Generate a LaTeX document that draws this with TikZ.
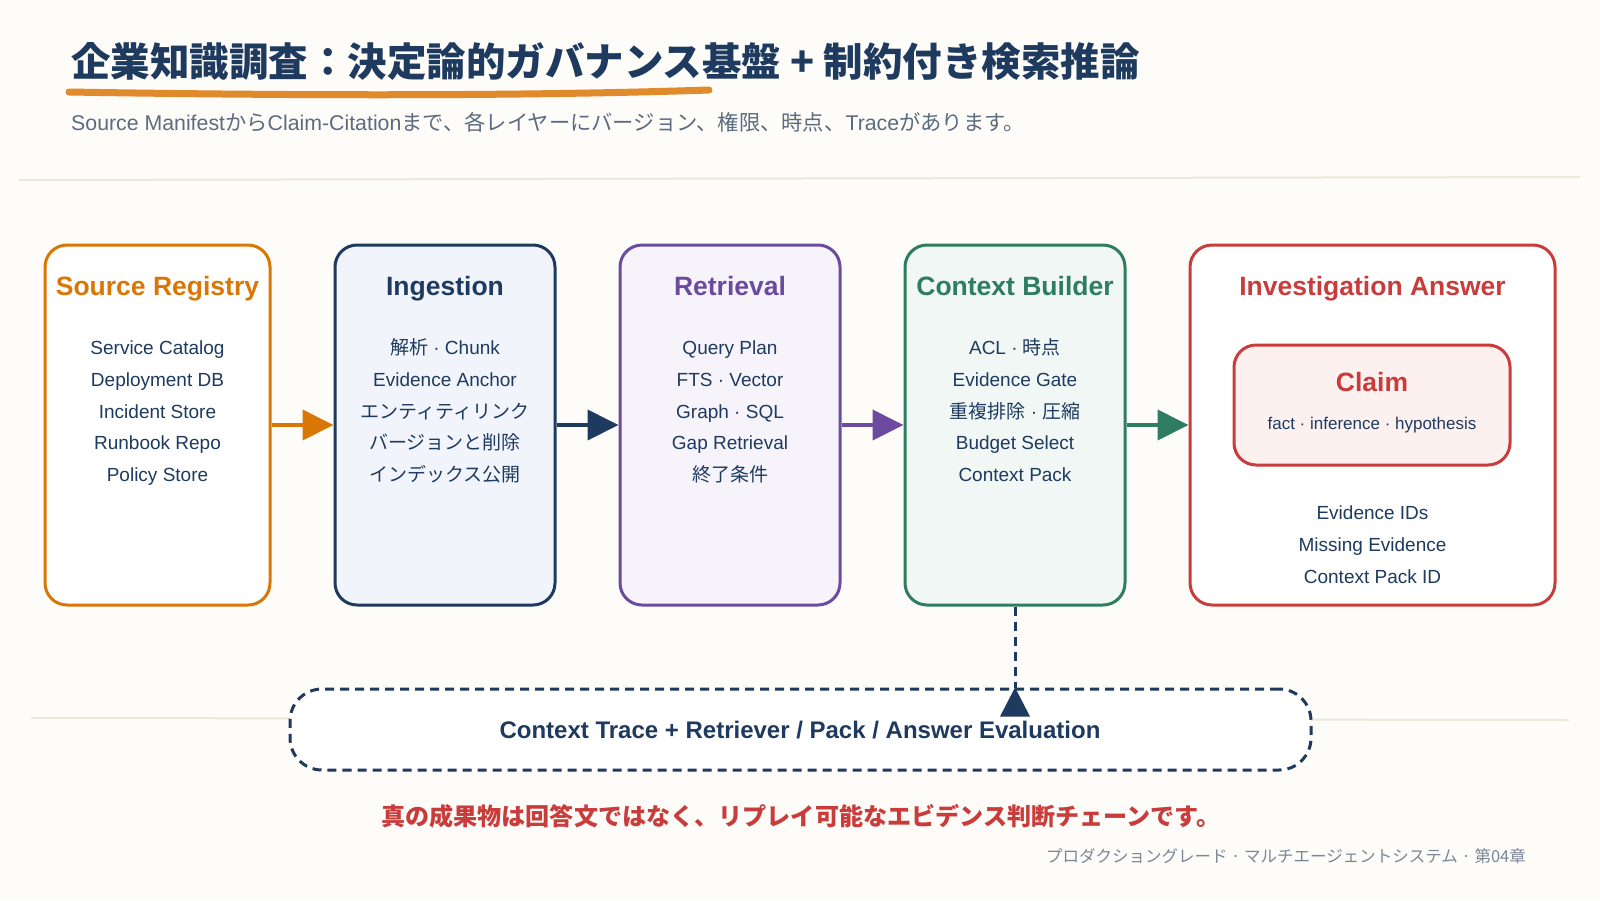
\documentclass[tikz,border=0pt]{standalone}
\usepackage{fontspec}
\setmainfont{Liberation Sans}
\newfontfamily\jp{Noto Sans CJK JP}
\newcommand\J[1]{{\jp #1}}
\usetikzlibrary{arrows.meta}
\definecolor{bg}{HTML}{FDFCF8}
\definecolor{navy}{HTML}{1E3A5F}
\definecolor{orng}{HTML}{D97706}
\definecolor{uline}{HTML}{E08A2C}
\definecolor{purp}{HTML}{6B4AA0}
\definecolor{grn}{HTML}{2E7D63}
\definecolor{rd}{HTML}{C93C3C}
\definecolor{fing}{HTML}{F1F5FB}
\definecolor{fret}{HTML}{F6F3FB}
\definecolor{fcb}{HTML}{F0F7F4}
\definecolor{fclaim}{HTML}{FDF1F0}
\definecolor{subg}{HTML}{5C6B80}
\definecolor{footg}{HTML}{7A879A}
\definecolor{divc}{HTML}{EDE8DC}
\tikzset{
  stagebox/.style={draw, line width=3pt, rounded corners=22pt, inner sep=0pt, minimum height=360pt},
  ttl/.style={font=\bfseries\fontsize{26.5}{30}\selectfont, inner sep=0pt, text height=19pt, text depth=0pt},
  itm/.style={font=\fontsize{19}{22}\selectfont, text=navy, inner sep=0pt, text height=13pt, text depth=0pt},
  arr/.style={line width=4pt, -{Triangle[length=31pt,width=30pt]}},
  dsh/.style={draw=navy, line width=3pt, dash pattern=on 9pt off 6pt},
  divline/.style={draw=divc, line width=2pt}
}
\begin{document}
\begin{tikzpicture}[x=1pt,y=-1pt]
\useasboundingbox (0,0) rectangle (1600,900);
\fill[bg] (0,0) rectangle (1600,900);

% dividers
\draw[divline] (19,180) -- (1580,177);
\draw[divline] (31,718) -- (1569,720);

% title
\node[anchor=west, inner sep=0pt, text=navy, font=\jp\bfseries\fontsize{39.5}{44}\selectfont] (title) at (71,62) {企業知識調査：決定論的ガバナンス基盤 + 制約付き検索推論};
\draw[uline, line width=7pt, line cap=round] (69,92) .. controls (250,95) and (500,97) .. (709,90);
\node[anchor=west, inner sep=0pt, text=subg, font=\fontsize{21.3}{24}\selectfont] (subtitle) at (71,122) {Source Manifest\J{から}Claim-Citation\J{まで、各レイヤーにバージョン、権限、時点、}Trace\J{があります。}};

% stage boxes
\node[stagebox, draw=orng, fill=white, minimum width=225pt] (src) at (157.5,425) {};
\node[stagebox, draw=navy, fill=fing, minimum width=220pt] (ing) at (445,425) {};
\node[stagebox, draw=purp, fill=fret, minimum width=220pt] (ret) at (730,425) {};
\node[stagebox, draw=grn, fill=fcb, minimum width=220pt] (cb) at (1015,425) {};
\node[stagebox, draw=rd, fill=white, minimum width=365pt] (inv) at (1372.5,425) {};

% titles
\node[ttl, text=orng] (srcT) at (157.5,286) {Source Registry};
\node[ttl, text=navy] (ingT) at (445,286) {Ingestion};
\node[ttl, text=purp] (retT) at (730,286) {Retrieval};
\node[ttl, text=grn] (cbT) at (1015,286) {Context Builder};
\node[ttl, text=rd] (invT) at (1372.5,286) {Investigation Answer};

% items
\foreach \t [count=\i] in {Service Catalog, Deployment DB, Incident Store, Runbook Repo, Policy Store}
  \node[itm] (src\i) at (157.5,{348+31.75*(\i-1)}) {\t};
\foreach \t [count=\i] in {\J{解析} · Chunk, Evidence Anchor, \J{エンティティリンク}, \J{バージョンと削除}, \J{インデックス公開}}
  \node[itm] (ing\i) at (445,{348+31.75*(\i-1)}) {\t};
\foreach \t [count=\i] in {Query Plan, FTS · Vector, Graph · SQL, Gap Retrieval, \J{終了条件}}
  \node[itm] (ret\i) at (730,{348+31.75*(\i-1)}) {\t};
\foreach \t [count=\i] in {ACL · \J{時点}, Evidence Gate, \J{重複排除} · \J{圧縮}, Budget Select, Context Pack}
  \node[itm] (cb\i) at (1015,{348+31.75*(\i-1)}) {\t};

% claim
\node[draw=rd, line width=3pt, fill=fclaim, rounded corners=22pt, minimum width=276pt, minimum height=120pt, inner sep=0pt] (claim) at (1372,405) {};
\node[ttl, text=rd] (claimT) at (1372,382) {Claim};
\node[itm, font=\fontsize{17}{20}\selectfont, text height=11.6pt] (claimS) at (1372,424) {fact · inference · hypothesis};
\foreach \t [count=\i] in {Evidence IDs, Missing Evidence, Context Pack ID}
  \node[itm] (inv\i) at (1372.5,{513+32*(\i-1)}) {\t};

% arrows
\draw[arr, orng] (src.east) -- (ing.west);
\draw[arr, navy] (ing.east) -- (ret.west);
\draw[arr, purp] (ret.east) -- (cb.west);
\draw[arr, grn] (cb.east) -- (inv.west);

% trace box
\node[dsh, fill=white, rounded corners=32pt, minimum width=1021pt, minimum height=81pt, inner sep=0pt] (trace) at (800.5,729.5) {};
\node[inner sep=0pt, text=navy, font=\bfseries\fontsize{24}{28}\selectfont, text height=17pt, text depth=0pt] (traceT) at (800,730) {Context Trace + Retriever / Pack / Answer Evaluation};
\coordinate (tip) at (cb.south |- trace.north);
\draw[dsh] (cb.south) -- (tip);
\fill[navy] (tip) -- ++(-15,29) -- ++(30,0) -- cycle;

% bottom texts
\node[anchor=west, inner sep=0pt, text=rd, font=\jp\bfseries\fontsize{24.1}{28}\selectfont] (moral) at (381,816) {真の成果物は回答文ではなく、リプレイ可能なエビデンス判断チェーンです。};
\node[anchor=east, inner sep=0pt, text=footg, font=\jp\fontsize{16.5}{20}\selectfont] (footer) at (1526,856) {プロダクショングレード · マルチエージェントシステム · 第04章};
\end{tikzpicture}
\end{document}
